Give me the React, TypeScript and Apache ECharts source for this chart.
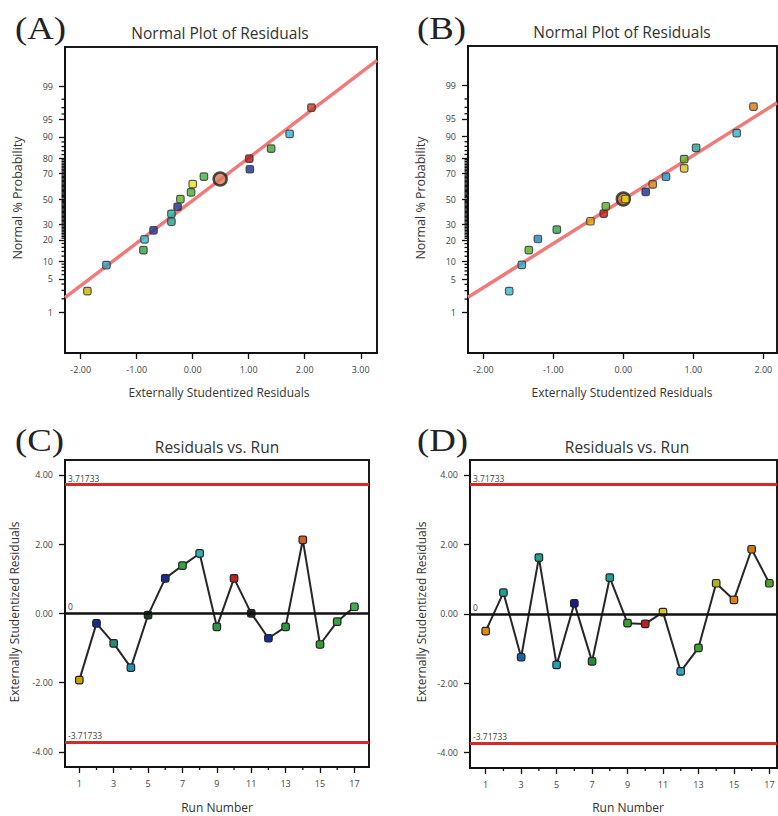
import React, { useEffect, useRef } from "react";
import * as echarts from "echarts";

// ---------- Data ----------
// Panel A: normal plot of residuals (x = externally studentized residual, p = normal % probability)
const normalA_x = [-1.88, -1.54, -0.88, -0.86, -0.7, -0.38, -0.38, -0.27, -0.22, -0.03, 0.0, 0.2, 1.02, 1.01, 1.4, 1.73, 2.12];
const normalA_p = [2.9, 8.7, 14.6, 20.3, 26, 32, 38, 43.7, 50, 55.5, 62, 67.7, 73, 79.7, 85, 91, 97];
const normalA_colors = ["#c8b000", "#2aa0c8", "#30a040", "#30c0d0", "#1a3a9a", "#20a090", "#20b0a0", "#1a2a8a", "#60b020", "#40b030", "#e8e020", "#40b040", "#1a2a8a", "#b01818", "#40a030", "#30b0d0", "#c04020"];
const highlightA = { x: 0.49, p: 66, color: "#d87a55" };
const fitA = { slope: 0.877, intercept: -0.03 };

// Panel B
const normalB_x = [-1.63, -1.45, -1.35, -1.22, -0.95, -0.47, -0.28, -0.25, 0.03, 0.32, 0.42, 0.61, 0.87, 0.87, 1.04, 1.62, 1.86];
const normalB_p = [2.94, 8.8, 14.7, 20.6, 26.5, 32.4, 38.2, 44.1, 50, 55.9, 61.8, 67.6, 73.5, 79.4, 85.3, 91.2, 97.1];
const normalB_colors = ["#30b8d0", "#30a8c0", "#50b020", "#2080b8", "#30a050", "#e0a000", "#c01818", "#50b020", "#f0e000", "#1a2a9a", "#e08010", "#2090c0", "#e0c020", "#60b020", "#20a090", "#30b0c8", "#e07810"];
const highlightB = { x: 0.0, p: 50, color: "#b8702a" };
const fitB = { slope: 0.904, intercept: -0.01 };

const probMajor = [1, 5, 10, 20, 30, 50, 70, 80, 90, 95, 99];
const probMinor = [2, 3, 4, 6, 7, 8, 9, 12, 14, 16, 18,
  21, 22, 23, 24, 25, 26, 27, 28, 29, 31, 32, 33, 34, 35, 36, 37, 38, 39, 40, 41, 42, 43, 44, 45, 46, 47, 48, 49,
  51, 52, 53, 54, 55, 56, 57, 58, 59, 60, 61, 62, 63, 64, 65, 66, 67, 68, 69, 71, 72, 73, 74, 75, 76, 77, 78, 79,
  82, 84, 86, 88, 96, 97, 98];

// Panel C / D: residuals vs run
const runs = [1, 2, 3, 4, 5, 6, 7, 8, 9, 10, 11, 12, 13, 14, 15, 16, 17];
const residC = [-1.93, -0.29, -0.87, -1.57, -0.05, 1.01, 1.38, 1.73, -0.39, 1.01, 0.0, -0.72, -0.39, 2.12, -0.9, -0.24, 0.19];
const colorsC = ["#c8a000", "#1a2a8a", "#2a8a7a", "#2090b0", "#1a3a22", "#1a2a8a", "#3aa040", "#30b0b0", "#2a9a40", "#c02020", "#222222", "#1a2a8a", "#2a9a40", "#d06020", "#3a9a30", "#3aa040", "#40b050"];
const residD = [-0.5, 0.61, -1.25, 1.62, -1.47, 0.3, -1.37, 1.04, -0.27, -0.29, 0.05, -1.66, -0.98, 0.88, 0.4, 1.86, 0.88];
const colorsD = ["#e08a10", "#20a090", "#1a60a8", "#20a090", "#20a0b0", "#1a1a8a", "#2a8a3a", "#20a090", "#3aa030", "#c02020", "#d8c820", "#30a8c0", "#40a030", "#b0b020", "#e08010", "#d07810", "#50a030"];
const limit = 3.71733;
const residTicks = [-4, -2, 0, 2, 4];
const xTicksA = [-2, -1, 0, 1, 2, 3];
const xTicksB = [-2, -1, 0, 1, 2];
const runMajor = [1, 3, 5, 7, 9, 11, 13, 15, 17];
const runMinor = [2, 4, 6, 8, 10, 12, 14, 16];

// ---------- helpers ----------
function invNorm(p: number): number {
  const a = [-3.969683028665376e1, 2.209460984245205e2, -2.759285104469687e2, 1.38357751867269e2, -3.066479806614716e1, 2.506628277459239];
  const b = [-5.447609879822406e1, 1.615858368580409e2, -1.556989798598866e2, 6.680131188771972e1, -1.328068155288572e1];
  const c = [-7.784894002430293e-3, -3.223964580411365e-1, -2.400758277161838, -2.549732539343734, 4.374664141464968, 2.938163982698783];
  const d = [7.784695709041462e-3, 3.224671290700398e-1, 2.445134137142996, 3.754408661907416];
  const plow = 0.02425;
  const phigh = 1 - plow;
  if (p < plow) {
    const q = Math.sqrt(-2 * Math.log(p));
    return (((((c[0] * q + c[1]) * q + c[2]) * q + c[3]) * q + c[4]) * q + c[5]) / ((((d[0] * q + d[1]) * q + d[2]) * q + d[3]) * q + 1);
  }
  if (p <= phigh) {
    const q = p - 0.5;
    const r = q * q;
    return ((((((a[0] * r + a[1]) * r + a[2]) * r + a[3]) * r + a[4]) * r + a[5]) * q) / (((((b[0] * r + b[1]) * r + b[2]) * r + b[3]) * r + b[4]) * r + 1);
  }
  const q = Math.sqrt(-2 * Math.log(1 - p));
  return -(((((c[0] * q + c[1]) * q + c[2]) * q + c[3]) * q + c[4]) * q + c[5]) / ((((d[0] * q + d[1]) * q + d[2]) * q + d[3]) * q + 1);
}
const zOf = (pct: number) => invNorm(pct / 100);

const SANS = "'Open Sans', 'Noto Sans', sans-serif";
const SERIF = "'Liberation Serif', 'DejaVu Serif', serif";
const tickLabel = { fontSize: 9, color: "#444", fontFamily: SANS };

function valueAxis(gridIndex: number, pos: string, min: number, max: number, ticks: number[], fmt: (v: number) => string) {
  return {
    type: "value",
    gridIndex,
    position: pos,
    min,
    max,
    splitLine: { show: false },
    axisLine: { show: true, onZero: false, lineStyle: { color: "#111", width: 2 } },
    axisTick: { show: true, length: 6, customValues: ticks, lineStyle: { color: "#111", width: 1.3 } },
    axisLabel: { ...tickLabel, margin: 12, customValues: ticks, formatter: fmt },
  };
}

function normalSeries(idx: number, xs: number[], ps: number[], colors: string[], hl: { x: number; p: number; color: string }, fit: { slope: number; intercept: number }, xmin: number, xmax: number) {
  return [
    {
      type: "line",
      xAxisIndex: idx,
      yAxisIndex: idx,
      data: [
        [xmin, fit.slope * xmin + fit.intercept],
        [xmax, fit.slope * xmax + fit.intercept],
      ],
      symbol: "none",
      clip: true,
      lineStyle: { color: "#f07a7a", width: 3.5 },
      z: 2,
    },
    {
      type: "scatter",
      xAxisIndex: idx,
      yAxisIndex: idx,
      data: [[hl.x, zOf(hl.p)]],
      symbol: "circle",
      symbolSize: 13,
      itemStyle: { color: hl.color, borderColor: "#222", borderWidth: 2.5 },
      z: 3,
    },
    {
      type: "scatter",
      xAxisIndex: idx,
      yAxisIndex: idx,
      data: xs.map((x, i) => ({ value: [x, zOf(ps[i])], itemStyle: { color: colors[i] } })),
      symbol: "roundRect",
      symbolSize: 7.5,
      itemStyle: { borderColor: "#333", borderWidth: 1.2 },
      z: 4,
    },
  ];
}

function limitLine(value: number, text: string, color: string, width: number) {
  return {
    yAxis: value,
    lineStyle: { color, width, type: "solid" },
    label: { show: true, position: "insideStartTop", formatter: text, fontSize: 8.5, color: "#444", fontFamily: SANS, distance: [3, 2] },
  };
}

function runSeries(idx: number, resid: number[], colors: string[]) {
  return {
    type: "line",
    xAxisIndex: idx,
    yAxisIndex: idx,
    data: runs.map((r, i) => ({ value: [r, resid[i]], itemStyle: { color: colors[i], borderColor: "#222", borderWidth: 1.2 } })),
    symbol: "roundRect",
    symbolSize: 7.5,
    showAllSymbol: true,
    lineStyle: { color: "#262626", width: 2 },
    z: 4,
    markLine: {
      silent: true,
      symbol: ["none", "none"],
      animation: false,
      data: [limitLine(limit, String(limit), "#d42a2a", 3), limitLine(-limit, String(-limit), "#d42a2a", 3), limitLine(0, "0", "#111", 2.5)],
    },
  };
}

function txt(x: number, y: number, text: string, size: number, opts: any = {}) {
  return {
    type: "text",
    x,
    y,
    rotation: opts.rotation || 0,
    scaleX: opts.scaleX || 1,
    style: {
      text,
      fontSize: size,
      fontFamily: opts.family || SANS,
      fill: opts.fill || "#333",
      align: opts.align || "center",
      verticalAlign: "middle",
    },
  };
}

export default function App() {
  const ref = useRef<HTMLDivElement>(null);
  useEffect(() => {
    if (!ref.current) return;
    const chart = echarts.init(ref.current, undefined, { renderer: "svg" });
    const gridStyle = { show: true, borderColor: "#1a1a1a", borderWidth: 2, containLabel: false };
    const A = { xmin: -2.28, xmax: 3.29, ymin: -3.17, ymax: 3.13 };
    const B = { xmin: -2.219, xmax: 2.196, ymin: -3.16, ymax: 3.14 };
    const C = { xmin: 0.168, xmax: 17.85, ymin: -4.44, ymax: 4.43 };
    const D = { xmin: 0.115, xmax: 17.43, ymin: -4.44, ymax: 4.43 };
    const fmt2 = (v: number) => v.toFixed(2);
    const probFmt = (v: number) => {
      const hit = probMajor.find((p) => Math.abs(zOf(p) - v) < 1e-4);
      return hit === undefined ? "" : String(hit);
    };
    const zMajor = probMajor.map(zOf);
    const zMinor = probMinor.map(zOf);
    const letter = { family: SERIF, align: "left", fill: "#222", scaleX: 1.15 };
    const texts = [
      txt(15, 28, "(A)", 32, letter),
      txt(417, 28, "(B)", 32, letter),
      txt(15, 440, "(C)", 32, letter),
      txt(417, 440, "(D)", 32, letter),
      txt(220, 33, "Normal Plot of Residuals", 15.5),
      txt(622, 32, "Normal Plot of Residuals", 15.5),
      txt(217, 447, "Residuals vs. Run", 15.5),
      txt(627, 447, "Residuals vs. Run", 15.5),
      txt(219, 392, "Externally Studentized Residuals", 12),
      txt(622, 392, "Externally Studentized Residuals", 12),
      txt(217, 807, "Run Number", 12),
      txt(628, 807, "Run Number", 12),
      txt(17, 198, "Normal % Probability", 12.5, { rotation: Math.PI / 2 }),
      txt(420, 198, "Normal % Probability", 12.5, { rotation: Math.PI / 2 }),
      txt(14, 612, "Externally Studentized Residuals", 12, { rotation: Math.PI / 2 }),
      txt(421, 612, "Externally Studentized Residuals", 12, { rotation: Math.PI / 2 }),
    ];
    const option: any = {
      animation: false,
      backgroundColor: "#ffffff",
      grid: [
        { ...gridStyle, left: 65, top: 47, width: 312, height: 306 },
        { ...gridStyle, left: 468, top: 46, width: 309, height: 307 },
        { ...gridStyle, left: 65, top: 460, width: 304, height: 307 },
        { ...gridStyle, left: 470, top: 460, width: 307, height: 308 },
      ],
      xAxis: [
        valueAxis(0, "bottom", A.xmin, A.xmax, xTicksA, fmt2),
        valueAxis(1, "bottom", B.xmin, B.xmax, xTicksB, fmt2),
        valueAxis(2, "bottom", C.xmin, C.xmax, runMajor, (v: number) => String(v)),
        valueAxis(3, "bottom", D.xmin, D.xmax, runMajor, (v: number) => String(v)),
      ],
      yAxis: [
        valueAxis(0, "left", A.ymin, A.ymax, zMajor, probFmt),
        valueAxis(1, "left", B.ymin, B.ymax, zMajor, probFmt),
        valueAxis(2, "left", C.ymin, C.ymax, residTicks, fmt2),
        valueAxis(3, "left", D.ymin, D.ymax, residTicks, fmt2),
      ],
      series: [
        ...normalSeries(0, normalA_x, normalA_p, normalA_colors, highlightA, fitA, A.xmin, A.xmax),
        ...normalSeries(1, normalB_x, normalB_p, normalB_colors, highlightB, fitB, B.xmin, B.xmax),
        runSeries(2, residC, colorsC),
        runSeries(3, residD, colorsD),
      ],
      graphic: texts,
    };
    chart.setOption(option);

    // Tick marks placed through the chart's own axis scales (convertToPixel)
    try {
      const ticks: any[] = [];
      const yTicks = (g: number, xAnchor: number, values: number[], len: number) => {
        values.forEach((v) => {
          const p = chart.convertToPixel({ gridIndex: g } as any, [xAnchor, v]) as number[];
          if (!p) return;
          ticks.push({ type: "line", z: 50, silent: true, shape: { x1: p[0] - len, y1: p[1], x2: p[0], y2: p[1] }, style: { stroke: "#111", lineWidth: 1.3 } });
        });
      };
      const xTicks = (g: number, yAnchor: number, values: number[], len: number) => {
        values.forEach((v) => {
          const p = chart.convertToPixel({ gridIndex: g } as any, [v, yAnchor]) as number[];
          if (!p) return;
          ticks.push({ type: "line", z: 50, silent: true, shape: { x1: p[0], y1: p[1], x2: p[0], y2: p[1] + len }, style: { stroke: "#111", lineWidth: 1.3 } });
        });
      };
      yTicks(0, A.xmin, zMinor, 3.5);
      yTicks(1, B.xmin, zMinor, 3.5);
      xTicks(2, C.ymin, runMinor, 3);
      xTicks(3, D.ymin, runMinor, 3);
      chart.setOption({ graphic: [...texts, ...ticks] }, { replaceMerge: ["graphic"] } as any);
    } catch (e) {
      // keep the base chart if tick placement fails
    }
    return () => chart.dispose();
  }, []);
  return <div ref={ref} style={{ position: "fixed", left: 0, top: 0, width: 778, height: 816, background: "#fff" }} />;
}
